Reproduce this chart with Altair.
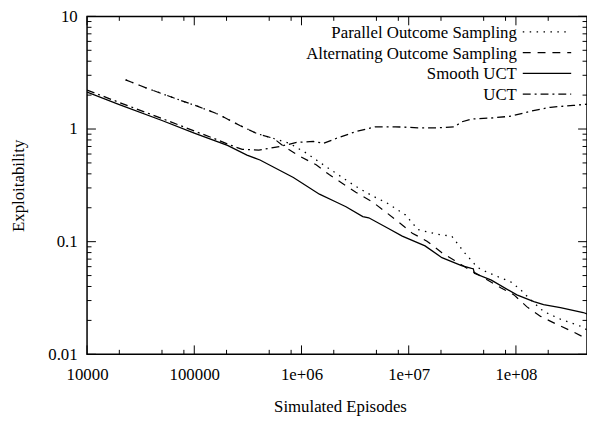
import altair as alt
import pandas as pd

# ---------------- data ----------------
smooth_x = [1e4, 2e4, 5e4, 1e5, 2.04e5, 3.1e5, 4.1e5, 8.4e5, 1.47e6, 2.1e6, 2.6e6, 3.73e6,
            4.24e6, 6.47e6, 8.7e6, 1.42e7, 2.04e7, 3.11e7, 3.85e7, 4.0e7, 4.1e7, 5.9e7,
            1.02e8, 1.47e8, 1.81e8, 2.6e8, 4.24e8, 4.6e8]
smooth_y = [2.13, 1.65, 1.19, 0.92, 0.716, 0.587, 0.531, 0.371, 0.264, 0.225, 0.204, 0.167,
            0.163, 0.131, 0.112, 0.0917, 0.0721, 0.0614, 0.0578, 0.0575, 0.0523, 0.0455,
            0.0337, 0.0294, 0.0276, 0.026, 0.0235, 0.0228]

uct_x = [1e4, 2e4, 5e4, 1e5, 1.5e5, 2.17e5, 2.8e5, 4.0e5, 6.27e5, 9e5, 1.29e6, 1.6e6, 2.1e6,
         3.2e6, 4.9e6, 7.5e6, 1.22e7, 1.87e7, 2.68e7, 3.11e7, 3.85e7, 5.89e7, 9.0e7,
         1.37e8, 2.1e8, 3.43e8, 4.6e8]
uct_y = [2.22, 1.72, 1.24, 0.96, 0.83, 0.72, 0.66, 0.65, 0.70, 0.76, 0.776, 0.746, 0.824,
         0.948, 1.047, 1.047, 1.026, 1.026, 1.047, 1.157, 1.228, 1.253, 1.30,
         1.44, 1.56, 1.62, 1.66]

pos_x = [2.29e4, 3.5e4, 7.05e4, 1.08e5, 1.65e5, 2.69e5, 3.85e5, 5.52e5, 7.75e5, 1.11e6,
         1.6e6, 3.01e6, 3.97e6, 5.24e6, 6.07e6, 9.3e6, 1.22e7, 1.87e7, 2.52e7, 3.32e7,
         4.38e7, 5.41e7, 9.0e7, 1.11e8, 1.37e8, 1.81e8, 2.6e8, 3.97e8, 4.6e8]
pos_y = [2.73, 2.33, 1.83, 1.59, 1.36, 1.07, 0.91, 0.824, 0.746, 0.611,
         0.481, 0.322, 0.275, 0.239, 0.225, 0.173, 0.128, 0.116, 0.112, 0.0797,
         0.059, 0.0534, 0.0438, 0.0373, 0.0305, 0.024, 0.0205, 0.0178, 0.0165]

aos_x = [2.29e4, 3.5e4, 7.05e4, 1.08e5, 1.65e5, 2.69e5, 3.85e5, 5.52e5, 6.82e5, 9.6e5,
         1.37e6, 1.81e6, 3.21e6, 4.61e6, 6.07e6, 8.36e6, 1.08e7, 1.48e7, 2.04e7, 2.68e7,
         3.53e7, 5.07e7, 7.28e7, 9.6e7, 1.26e8, 1.7e8, 2.39e8, 3.43e8, 4.6e8]
aos_y = [2.73, 2.33, 1.83, 1.59, 1.36, 1.07, 0.91, 0.824, 0.702, 0.575,
         0.481, 0.394, 0.275, 0.225, 0.184, 0.145, 0.119, 0.101, 0.0797, 0.068,
         0.0578, 0.0474, 0.0388, 0.0337, 0.0265, 0.0217, 0.0185, 0.0158, 0.0137]

x_major = [10000, 100000, 1000000, 10000000, 100000000]
x_major_labels = ["10000", "100000", "1e+06", "1e+07", "1e+08"]
x_minor = [2e4, 5e4, 8e4, 2e5, 5e5, 8e5, 2e6, 5e6, 8e6, 2e7, 5e7, 8e7, 2e8]
y_major = [0.01, 0.1, 1, 10]
y_major_labels = ["0.01", "0.1", "1", "10"]
y_minor = [m * d for d in (0.01, 0.1, 1) for m in (2, 3, 4, 5, 6, 7, 8, 9)]

legend_labels = ["Parallel Outcome Sampling", "Alternating Outcome Sampling", "Smooth UCT", "UCT"]

# ---------------- style ----------------
FONT = "Liberation Serif"
FS = 17
W, H = 506, 342
xscale = alt.Scale(type="log", domain=[1e4, 4.6e8], nice=False)
yscale = alt.Scale(type="log", domain=[0.01, 10], nice=False)

DOT = [1.5, 5.5]
DASH = [8, 7]
DASHDOT = [8, 4, 2, 4]


def cascade(vals, labs):
    # label expression: pick the label of the nearest major value
    expr = "'" + labs[-1] + "'"
    for v, lab in reversed(list(zip(vals[:-1], labs[:-1]))):
        expr = f"datum.value < {v * 1.5} ? '{lab}' : ({expr})"
    return expr


# identical axis objects are used in every layer so that they merge into one axis
x_axis = alt.Axis(values=x_major, tickSize=0, domain=False, grid=False,
                  labelFont=FONT, labelFontSize=FS, labelColor="black", labelPadding=13,
                  labelOverlap=False, labelFlush=False,
                  labelExpr=cascade(x_major, x_major_labels),
                  title="Simulated Episodes", titleFont=FONT, titleFontSize=FS,
                  titleFontWeight="normal", titleColor="black",
                  titleBaseline="alphabetic", titleAlign="center", titleX=256, titleY=58)
y_axis = alt.Axis(values=y_major, tickSize=0, domain=False, grid=False,
                  labelFont=FONT, labelFontSize=FS, labelColor="black", labelPadding=10,
                  labelOverlap=False, labelFlush=False,
                  labelExpr=cascade(y_major, y_major_labels),
                  title="Exploitability", titleFont=FONT, titleFontSize=FS,
                  titleFontWeight="normal", titleColor="black",
                  titleBaseline="alphabetic", titleAlign="center", titleAngle=270,
                  titleX=-64, titleY=H / 2)


def line_layer(xs, ys, dash, width=1.2):
    df = pd.DataFrame({"x": xs, "y": ys})
    kw = {"strokeDash": dash} if dash else {}
    return alt.Chart(df).mark_line(color="black", strokeWidth=width, clip=True, **kw).encode(
        x=alt.X("x:Q", scale=xscale, axis=x_axis),
        y=alt.Y("y:Q", scale=yscale, axis=y_axis),
    )


def xticks(vals, y0, y1):
    return alt.Chart(pd.DataFrame({"x": vals})).mark_rule(color="black", strokeWidth=1).encode(
        x=alt.X("x:Q", scale=xscale, axis=x_axis), y=alt.value(y0), y2=alt.value(y1))


def yticks(vals, x0, x1):
    return alt.Chart(pd.DataFrame({"y": vals})).mark_rule(color="black", strokeWidth=1).encode(
        y=alt.Y("y:Q", scale=yscale, axis=y_axis), x=alt.value(x0), x2=alt.value(x1))


MAJ, MIN = 9, 4.5
ticks = [
    xticks(x_major, H, H - MAJ), xticks(x_minor, H, H - MIN),
    xticks(x_major, 0, MAJ), xticks(x_minor, 0, MIN),
    yticks(y_major, 0, MAJ), yticks(y_minor, 0, MIN),
    yticks(y_major, W, W - MAJ), yticks(y_minor, W, W - MIN),
]

lines = [
    line_layer(smooth_x, smooth_y, None, 1.3),
    line_layer(uct_x, uct_y, DASHDOT, 1.3),
    line_layer(aos_x, aos_y, DASH, 1.2),
    line_layer(pos_x, pos_y, DOT, 1.3),
]

# legend (gnuplot style: label, then line sample on the right)
legend = []
dashes = [DOT, DASH, None, DASHDOT]
for i, (lab, d) in enumerate(zip(legend_labels, dashes)):
    base = 21.7 + 21 * i
    legend.append(
        alt.Chart(pd.DataFrame({"t": [lab]})).mark_text(
            font=FONT, fontSize=FS, align="right", baseline="alphabetic", color="black"
        ).encode(x=alt.value(435), y=alt.value(base), text="t:N")
    )
    kw = {"strokeDash": d} if d else {}
    legend.append(
        alt.Chart(pd.DataFrame({"t": [lab]})).mark_rule(color="black", strokeWidth=1.2, **kw).encode(
            x=alt.value(441), x2=alt.value(490), y=alt.value(base - 6))
    )

chart = alt.layer(*lines, *ticks, *legend).properties(
    width=W, height=H,
    autosize=alt.AutoSizeParams(type="none"),
    padding={"left": 80, "top": 6, "right": 0, "bottom": 64},
    background="white",
).configure_view(stroke="black", strokeWidth=1.5)

chart.save("out.html", embed_options={"renderer": "svg", "actions": False})
